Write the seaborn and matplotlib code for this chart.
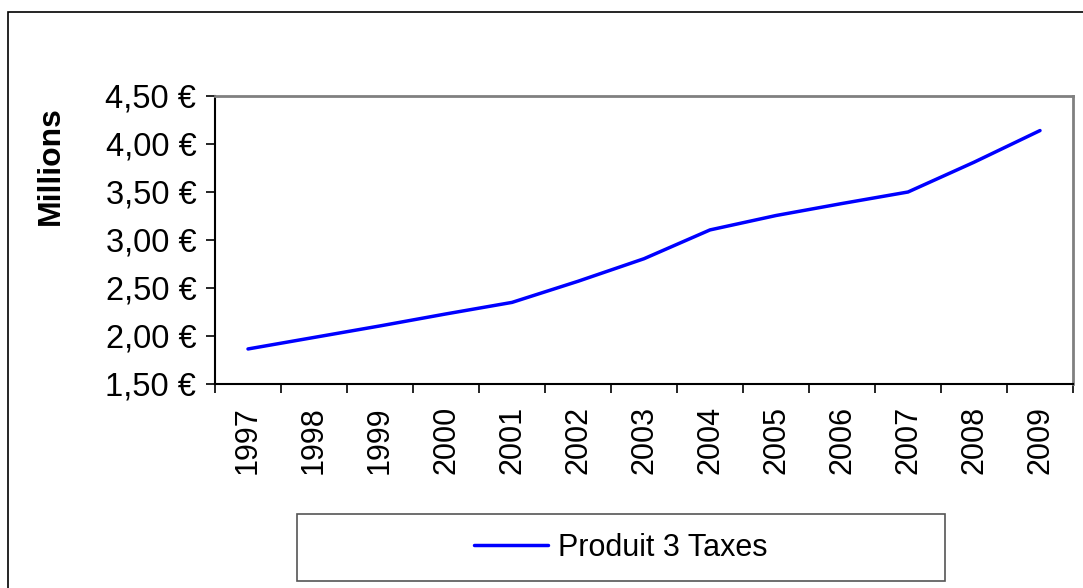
import matplotlib
matplotlib.use("Agg")
import matplotlib.pyplot as plt
import numpy as np
import pandas as pd
import seaborn as sns
from matplotlib.patches import Rectangle
from matplotlib.ticker import FixedLocator, FuncFormatter, NullFormatter

annees = ['1997', '1998', '1999', '2000', '2001', '2002', '2003',
          '2004', '2005', '2006', '2007', '2008', '2009']
produit_3_taxes = [1.865, 1.985, 2.105, 2.23, 2.35, 2.57, 2.805,
                   3.105, 3.255, 3.38, 3.50, 3.81, 4.14]
y_ticks = [1.5, 2.0, 2.5, 3.0, 3.5, 4.0, 4.5]
serie_label = 'Produit 3 Taxes'
y_label = 'Millions'

df = pd.DataFrame({'annee': annees, 'valeur': produit_3_taxes})

sns.set_style('white')
plt.rcParams['font.family'] = ['Liberation Sans', 'DejaVu Sans']
plt.rcParams['text.color'] = 'black'
plt.rcParams['xtick.color'] = 'black'
plt.rcParams['ytick.color'] = 'black'
plt.rcParams['axes.labelcolor'] = 'black'

W, H = 1083, 588
fig = plt.figure(figsize=(W / 100, H / 100), dpi=100)
ax = fig.add_axes([215 / W, 1 - 384 / H, 858 / W, 288 / H])

sns.lineplot(data=df, x='annee', y='valeur', ax=ax, color='#0000FF',
             linewidth=2.5, label=serie_label, legend=False)

ax.set_xlim(-0.5, len(annees) - 0.5)
ax.set_ylim(y_ticks[0], y_ticks[-1])
ax.set_yticks(y_ticks)
ax.yaxis.set_major_formatter(
    FuncFormatter(lambda v, p: f'{v:.2f} €'.replace('.', ',')))

# category labels in the middle, tick marks at the boundaries
ax.set_xticks(range(len(annees)))
ax.set_xticklabels(annees, rotation=90)
ax.xaxis.set_minor_locator(FixedLocator(np.arange(-0.5, len(annees), 1.0)))
ax.xaxis.set_minor_formatter(NullFormatter())
ax.tick_params(axis='x', which='major', length=0, pad=16, labelsize=22)
ax.tick_params(axis='x', which='minor', length=6.5, width=1.2,
               color='black', direction='out', bottom=True)
ax.tick_params(axis='y', length=6.5, width=1.2, color='black',
               direction='out', left=True, pad=7, labelsize=23.5)

ax.set_xlabel('')
ax.set_ylabel(y_label, fontsize=23, fontweight='bold')
ax.yaxis.set_label_coords(-0.174, 0.757)

for side in ['left', 'bottom']:
    ax.spines[side].set_color('black')
    ax.spines[side].set_linewidth(1.5)
for side in ['top', 'right']:
    ax.spines[side].set_color('#808080')
    ax.spines[side].set_linewidth(2)
    ax.spines[side].set_visible(True)

# outer chart frame
fig.patches.append(Rectangle((8 / W, -0.05), 1.1, 1 - 12 / H + 0.05,
                             transform=fig.transFigure, fill=False,
                             edgecolor='black', linewidth=1.2))

# legend box
bx0, by0, bw, bh = 297 / W, 1 - 581 / H, 648 / W, 67 / H
fig.patches.append(Rectangle((bx0, by0), bw, bh, transform=fig.transFigure,
                             fill=False, edgecolor='#555555', linewidth=1.2))
handles, labels = ax.get_legend_handles_labels()
fig.legend(handles, labels, loc='center',
           bbox_to_anchor=(bx0 + bw / 2, by0 + bh / 2),
           frameon=False, fontsize=22, handlelength=2.4,
           handletextpad=0.35)

fig.savefig('out.png', dpi=100)
